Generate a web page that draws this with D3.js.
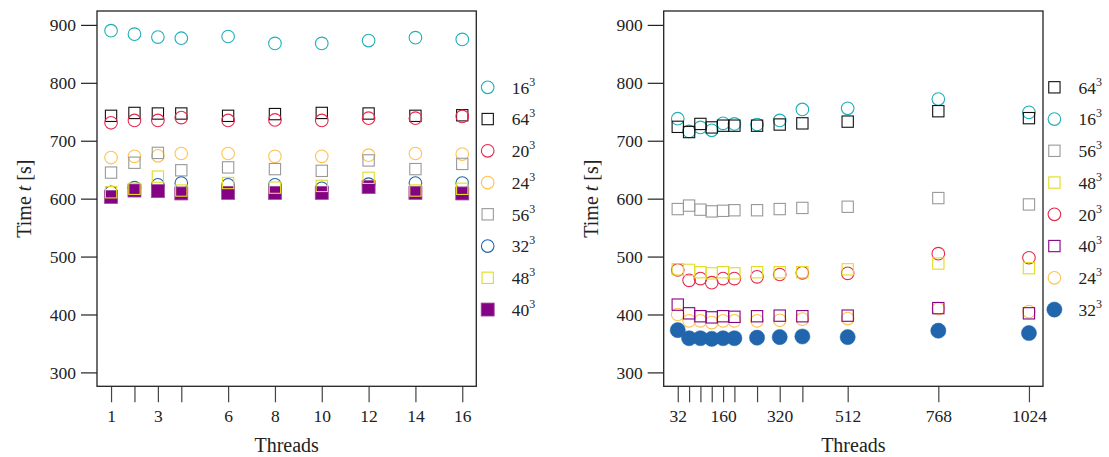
<!DOCTYPE html>
<html>
<head>
<meta charset="utf-8">
<script src="https://cdn.jsdelivr.net/npm/d3@7"></script>
<style>
  body { margin: 0; background: #fff; }
  svg text { font-family: "Liberation Serif", serif; fill: #222; }
</style>
</head>
<body>
<svg id="chart" width="1109" height="457"></svg>
<script>
// data
const yTicks = [300, 400, 500, 600, 700, 800, 900];

const leftThreads = [1, 2, 3, 4, 6, 8, 10, 12, 14, 16];
const leftTickLabels = [1, 3, 6, 8, 10, 12, 14, 16];
const left16 = [890, 884, 879, 877, 880, 868, 868, 873, 878, 875];
const left64 = [743, 748, 747, 747, 743, 746, 748, 747, 743, 744];
const left20 = [731, 735, 735, 740, 735, 736, 735, 739, 739, 742];
const left24 = [671, 673, 674, 678, 678, 673, 673, 675, 678, 677];
const left56 = [645, 662, 679, 649, 654, 651, 648, 666, 651, 660];
const left32 = [611, 619, 624, 627, 624, 624, 618, 625, 627, 627];
const left48 = [611, 617, 638, 614, 627, 619, 622, 636, 614, 617];
const left40 = [603, 614, 613, 609, 610, 610, 610, 620, 610, 609];

const rightThreads = [32, 64, 96, 128, 160, 192, 256, 320, 384, 512, 768, 1024];
const rightTickLabels = [32, 160, 320, 512, 768, 1024];
const right64 = [724, 715, 729, 723, 726, 726, 726, 728, 730, 733, 751, 739];
const right16 = [738, 716, 723, 718, 730, 729, 728, 735, 754, 756, 772, 749];
const right56 = [582, 588, 581, 578, 579, 580, 580, 582, 584, 586, 601, 590];
const right48 = [478, 477, 473, 471, 473, 471, 473, 473, 473, 478, 488, 480];
const right20 = [477, 459, 462, 455, 462, 462, 465, 469, 472, 471, 505, 498];
const right40 = [417, 402, 397, 395, 397, 396, 397, 398, 397, 398, 411, 402];
const right24 = [400, 389, 389, 386, 389, 389, 389, 390, 392, 393, 410, 405];
const right32 = [373, 359, 359, 358, 359, 359, 360, 361, 362, 361, 372, 368];

// marker styles per grid size
const style = {
  '16': {color: '#1fb0b8', shape: 'circle'},
  '64': {color: '#111111', shape: 'square'},
  '20': {color: '#e8294c', shape: 'circle'},
  '24': {color: '#ffc24f', shape: 'circle'},
  '56': {color: '#999999', shape: 'square'},
  '32': {color: '#2166ac', shape: 'circle'},
  '48': {color: '#e2dc22', shape: 'square'},
  '40': {color: '#840284', shape: 'square'}
};

const svg = d3.select('#chart');
const W = 379.3, H = 375.3;

function panel(opt) {
  const g = svg.append('g').attr('transform', `translate(${opt.dx},11)`);

  const x = d3.scaleLinear().domain(opt.xDomain).range([0, W]);
  const y = d3.scaleLinear().domain([276, 924]).range([H, 0]);

  // y axis
  const ya = g.append('g')
    .call(d3.axisLeft(y).tickValues(yTicks).tickSize(16).tickPadding(5));
  ya.select('.domain').remove();
  ya.selectAll('line').attr('stroke', '#222').attr('stroke-width', 1.2);
  ya.selectAll('text').style('font-size', '17.5px');

  // x axis
  const xa = g.append('g').attr('transform', `translate(0,${H})`)
    .call(d3.axisBottom(x).tickValues(opt.xs).tickSize(16).tickPadding(7)
      .tickFormat(d => opt.labels.includes(d) ? d : ''));
  xa.select('.domain').remove();
  xa.selectAll('line').attr('stroke', '#444').attr('stroke-width', 1.2);
  xa.selectAll('text').style('font-size', '17.5px');

  g.append('rect')
    .attr('width', W).attr('height', H)
    .attr('fill', 'none').attr('stroke', '#222').attr('stroke-width', 1.3);

  g.append('text')
    .attr('transform', `translate(-66,${H / 2})`  + ' rotate(-90)')
    .attr('text-anchor', 'middle')
    .style('font-size', '20px')
    .html('Time <tspan font-style="italic">t</tspan> [s]');

  g.append('text')
    .attr('x', W / 2).attr('y', 440.7)
    .attr('text-anchor', 'middle')
    .style('font-size', '20px')
    .text('Threads');

  // points
  opt.drawOrder.forEach(s => {
    const st = style[s.key];
    const filled = opt.filled.includes(s.key);
    const pts = g.append('g');
    s.values.forEach((v, i) => {
      marker(pts, x(opt.xs[i]), y(v), st, filled);
    });
  });

  // legend
  const lg = g.append('g').attr('transform', `translate(${W + 11.4},76.3)`);
  opt.legend.forEach((k, i) => {
    const row = lg.append('g').attr('transform', `translate(0,${i * 31.75})`);
    marker(row, 0, 0, style[k], opt.filled.includes(k));
    const t = row.append('text').attr('x', 24).attr('y', 6.2).style('font-size', '17.5px');
    t.append('tspan').text(k);
    t.append('tspan').attr('dy', -8).style('font-size', '12px').text('3');
  });
}

function marker(sel, cx, cy, st, filled) {
  if (st.shape === 'circle') {
    sel.append('circle')
      .attr('cx', cx).attr('cy', cy)
      .attr('r', filled ? 7.6 : 6.3)
      .attr('fill', filled ? st.color : 'none')
      .attr('stroke', st.color).attr('stroke-width', filled ? 0.5 : 1.1);
  } else {
    const s = filled ? 13 : 11.3;
    sel.append('rect')
      .attr('x', cx - s / 2).attr('y', cy - s / 2)
      .attr('width', s).attr('height', s)
      .attr('fill', filled ? st.color : 'none')
      .attr('stroke', filled ? '#a04aa0' : st.color)
      .attr('stroke-width', filled ? 0.8 : 1.1);
  }
}

panel({
  dx: 97,
  xDomain: [0.4, 16.6],
  xs: leftThreads,
  labels: leftTickLabels,
  filled: ['40'],
  legend: ['16', '64', '20', '24', '56', '32', '48', '40'],
  drawOrder: [
    {key: '16', values: left16}, {key: '64', values: left64},
    {key: '20', values: left20}, {key: '24', values: left24},
    {key: '56', values: left56}, {key: '32', values: left32},
    {key: '40', values: left40}, {key: '48', values: left48}
  ]
});

panel({
  dx: 663.7,
  xDomain: [-7.7, 1063.7],
  xs: rightThreads,
  labels: rightTickLabels,
  filled: ['32'],
  legend: ['64', '16', '56', '48', '20', '40', '24', '32'],
  drawOrder: [
    {key: '16', values: right16}, {key: '64', values: right64},
    {key: '56', values: right56}, {key: '32', values: right32},
    {key: '24', values: right24}, {key: '40', values: right40},
    {key: '20', values: right20}, {key: '48', values: right48}
  ]
});
</script>
</body>
</html>
